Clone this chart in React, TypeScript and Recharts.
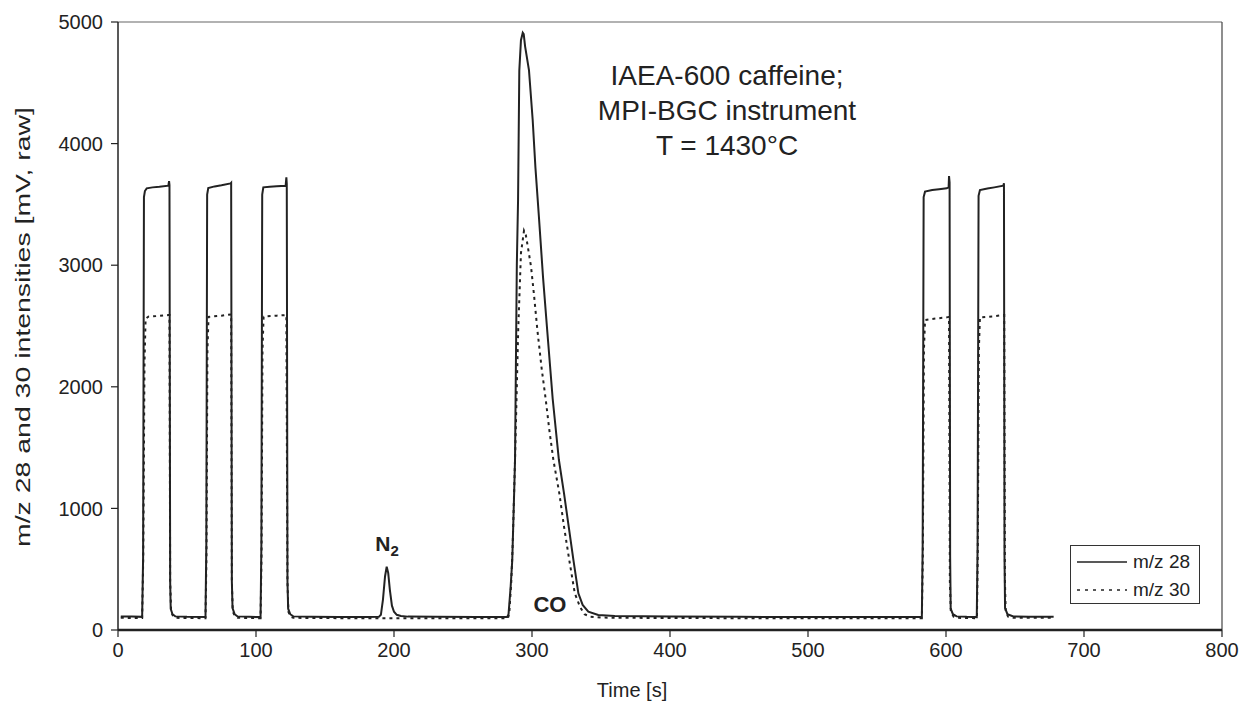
import React from "react"
import {
    LineChart,
    Line,
    XAxis,
    YAxis,
    Label,
    ReferenceLine,
    ReferenceDot
} from "recharts"

// m/z 28 trace: time [s] and raw intensity [mV]
const time28 = [
    2, 10, 17.5, 18.2, 18.8, 19.5, 20.8, 25, 30, 36.5, 37.0, 37.3, 37.8, 38.2, 39.5, 41.5, 50,
    63.4, 64.0, 64.6, 65.4, 70, 75, 81.6, 82.0, 82.5, 83, 84.5, 86.5, 95,
    103.3, 103.9, 104.5, 105.3, 110, 115, 121.5, 122.0, 122.3, 122.8, 123.3, 124.8, 127, 140, 160, 180,
    189, 190.5, 192, 193.5, 194.7, 195.8, 197, 198.5, 200, 202, 205, 210, 230, 260,
    282, 283, 284.5, 285.7, 287, 287.7, 289, 289.9, 290.8, 292, 293.3, 294, 295, 297.8, 300.5, 302.5,
    305, 308, 311, 315, 319.5, 323.2, 326.6, 330, 333.6, 336.7, 340.8, 348, 360, 400, 450, 500, 550,
    582.5, 583.1, 583.8, 584.8, 590, 595, 600.5, 601.9, 602.2, 602.6, 603.0, 603.4, 605, 607.7, 615,
    622.3, 622.9, 623.6, 624.6, 630, 635, 641.5, 642.0, 642.4, 642.8, 644.5, 648.8, 660, 678
]
const mz28 = [
    112, 110, 108, 600, 3560, 3610, 3632, 3640, 3645, 3654, 3692, 3660, 400, 175, 130, 112, 108,
    106, 700, 3580, 3635, 3648, 3658, 3673, 3678, 400, 180, 130, 112, 108,
    106, 700, 3580, 3640, 3645, 3650, 3654, 3722, 3670, 400, 175, 130, 112, 108, 106, 106,
    108, 125, 250, 440, 520, 470, 330, 200, 150, 125, 115, 110, 108, 106,
    106, 130, 350, 576, 1100, 1398, 3000, 3536, 4600, 4850, 4912, 4900, 4800, 4605, 4194, 3800,
    3400, 2900, 2467, 1900, 1398, 1124, 850, 576, 302, 206, 151, 123, 115, 110, 108, 107, 106,
    106, 700, 3560, 3605, 3618, 3625, 3632, 3640, 3733, 3680, 600, 175, 130, 112, 108,
    106, 700, 3570, 3618, 3630, 3640, 3654, 3673, 600, 180, 130, 112, 109, 108
]

// m/z 30 trace
const time30 = [
    2, 17.5, 18.3, 19.2, 20, 22, 30, 36.5, 37.3, 37.8, 38.5, 40, 42,
    63.4, 64.1, 64.8, 65.6, 75, 82, 82.5, 83.2, 85, 87,
    103.3, 104, 104.7, 105.5, 115, 122, 122.8, 123.5, 125, 127, 180,
    282.5, 283.5, 285, 286, 287.7, 289, 290, 292, 294.2, 295.5, 297, 299.3, 301.5, 303.9, 307, 310,
    312.5, 315.5, 319.8, 323.2, 327, 331, 334.8, 338, 342, 350, 400, 500,
    582.5, 583.2, 584, 584.8, 590, 600.5, 602.2, 602.8, 603.5, 605.5, 608,
    622.4, 623, 623.8, 624.6, 635, 641.5, 642.2, 642.7, 643.3, 645, 649, 678
]
const mz30 = [
    100, 98, 600, 2200, 2560, 2577, 2583, 2590, 2590, 400, 150, 110, 100,
    97, 600, 2300, 2575, 2585, 2595, 400, 150, 110, 100,
    97, 600, 2300, 2577, 2585, 2590, 400, 150, 110, 100, 96,
    96, 130, 400, 700, 1398, 2000, 2467, 3100, 3284, 3250, 3150, 2988, 2750, 2467, 2150, 1891,
    1650, 1398, 1124, 850, 576, 302, 190, 130, 110, 102, 98, 97,
    96, 600, 2300, 2549, 2558, 2571, 2575, 400, 150, 110, 100,
    97, 600, 2300, 2571, 2580, 2590, 2590, 400, 150, 110, 100, 100
]

const xTicks = [0, 100, 200, 300, 400, 500, 600, 700, 800]
const yTicks = [0, 1000, 2000, 3000, 4000, 5000]
const seriesNames = ["m/z 28", "m/z 30"]
const titleLines = ["IAEA-600 caffeine;", "MPI-BGC instrument", "T = 1430°C"]

const font = "'Liberation Sans', Arial, Helvetica, sans-serif"
const ink = "#222"

const data28 = time28.map((t, i) => ({ t, v: mz28[i] }))
const data30 = time30.map((t, i) => ({ t, v: mz30[i] }))

const LegendBox = () => (
    <div
        style={{
            position: "absolute",
            left: 1070,
            top: 545,
            width: 130,
            height: 59,
            border: "1px solid #333",
            background: "#fff",
            fontFamily: font,
            fontSize: 19,
            color: ink,
            lineHeight: "28px",
            padding: "2px 0 0 6px",
            boxSizing: "border-box"
        }}
    >
        {seriesNames.map((name, i) => (
            <div key={name} style={{ display: "flex", alignItems: "center" }}>
                <svg width={52} height={10} style={{ marginRight: 4 }}>
                    <line
                        x1={0}
                        y1={5}
                        x2={50}
                        y2={5}
                        stroke={ink}
                        strokeWidth={1.5}
                        strokeDasharray={i === 1 ? "3 5" : undefined}
                    />
                </svg>
                <span>{name}</span>
            </div>
        ))}
    </div>
)

export default function App() {
    return (
        <div style={{ position: "absolute", left: 0, top: 0, width: 1242, height: 708, background: "#fff" }}>
            <LineChart
                width={1242}
                height={708}
                margin={{ top: 22, right: 20, left: 58, bottom: 28 }}
            >
                <XAxis
                    dataKey="t"
                    type="number"
                    domain={[0, 800]}
                    ticks={xTicks}
                    allowDataOverflow
                    height={50}
                    tickSize={7}
                    tickMargin={6}
                    axisLine={{ stroke: ink, strokeWidth: 2.5 }}
                    tickLine={{ stroke: ink, strokeWidth: 1.2 }}
                    tick={{ fill: ink, fontSize: 20, fontFamily: font }}
                >
                    <Label
                        content={() => (
                            <text x={632} y={697} textAnchor="middle" fill={ink} fontSize={20} fontFamily={font}>
                                Time [s]
                            </text>
                        )}
                    />
                </XAxis>
                <YAxis
                    type="number"
                    domain={[0, 5000]}
                    ticks={yTicks}
                    width={60}
                    tickSize={7}
                    tickMargin={8}
                    axisLine={{ stroke: ink, strokeWidth: 1.5 }}
                    tickLine={{ stroke: ink, strokeWidth: 1.2 }}
                    tick={{ fill: ink, fontSize: 20, fontFamily: font }}
                >
                    <Label
                        content={() => (
                            <text
                                x={0}
                                y={0}
                                transform="translate(30 327) rotate(-90)"
                                textAnchor="middle"
                                fill={ink}
                                fontSize={20}
                                fontFamily={font}
                                textLength={440}
                                lengthAdjust="spacingAndGlyphs"
                            >
                                m/z 28 and 30 intensities [mV, raw]
                            </text>
                        )}
                    />
                </YAxis>
                <ReferenceLine y={5000} stroke="#666" strokeWidth={1.2} />
                <ReferenceLine x={800} stroke="#444" strokeWidth={1.2} />
                <Line
                    data={data30}
                    dataKey="v"
                    name={seriesNames[1]}
                    type="linear"
                    stroke={ink}
                    strokeWidth={2}
                    strokeDasharray="3 4"
                    dot={false}
                    isAnimationActive={false}
                />
                <Line
                    data={data28}
                    dataKey="v"
                    name={seriesNames[0]}
                    type="linear"
                    stroke={ink}
                    strokeWidth={2}
                    dot={false}
                    isAnimationActive={false}
                />
                <ReferenceDot
                    x={195}
                    y={520}
                    r={0}
                    label={(p: any) => (
                        <text x={p.viewBox.x} y={p.viewBox.y - 16} textAnchor="middle" fill={ink} fontFamily={font} fontWeight="bold" fontSize={21}>
                            N<tspan fontSize={15} dy={5}>2</tspan>
                        </text>
                    )}
                />
                <ReferenceDot
                    x={313}
                    y={100}
                    r={0}
                    label={(p: any) => (
                        <text x={p.viewBox.x} y={p.viewBox.y - 6} textAnchor="middle" fill={ink} fontFamily={font} fontWeight="bold" fontSize={22}>
                            CO
                        </text>
                    )}
                />
            </LineChart>
            <LegendBox />
            <div
                style={{
                    position: "absolute",
                    left: 577,
                    top: 58,
                    width: 300,
                    textAlign: "center",
                    fontFamily: font,
                    fontSize: 28,
                    lineHeight: "35px",
                    color: ink
                }}
            >
                {titleLines.map((l) => (
                    <div key={l}>{l}</div>
                ))}
            </div>
        </div>
    )
}
